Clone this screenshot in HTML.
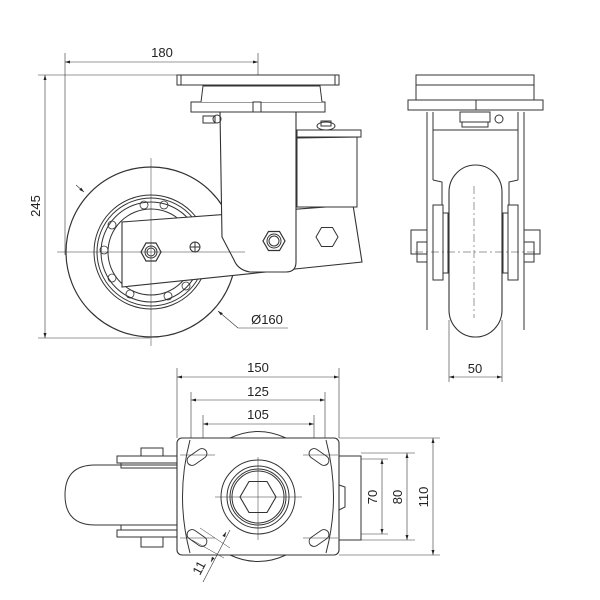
<!DOCTYPE html>
<html><head><style>body{margin:0;background:#fff}svg{display:block}text{font-family:"Liberation Sans",sans-serif;fill:#222}</style></head>
<body>
<svg width="600" height="600" viewBox="0 0 600 600" xmlns="http://www.w3.org/2000/svg">
<defs>
<marker id="a" viewBox="0 0 10 6" refX="10" refY="3" markerWidth="9" markerHeight="5" orient="auto-start-reverse"><path d="M0,0 L10,3 L0,6 z" fill="#222"/></marker>
</defs>
<g fill="none" stroke="#333" stroke-width="1">
<!-- ===== SIDE VIEW ===== -->
<line x1="65" y1="53" x2="65" y2="255" stroke-width="0.6"/>
<line x1="258" y1="53" x2="258" y2="95" stroke-width="0.6"/>
<line x1="65" y1="62" x2="258" y2="62" stroke-width="0.6" marker-start="url(#a)" marker-end="url(#a)"/>
<line x1="38" y1="75" x2="177" y2="75" stroke-width="0.6"/>
<line x1="38" y1="338" x2="150" y2="338" stroke-width="0.6"/>
<line x1="45" y1="75" x2="45" y2="338" stroke-width="0.6" marker-start="url(#a)" marker-end="url(#a)"/>
<!-- wheel -->
<circle cx="151" cy="252" r="85" stroke-width="1.2"/>
<circle cx="151" cy="252" r="57"/>
<circle cx="151" cy="252" r="54"/>
<circle cx="151" cy="252" r="50"/>
<circle cx="151" cy="252" r="43"/>
<g stroke-width="0.8">
<circle cx="144" cy="205" r="4"/><circle cx="164" cy="205" r="4"/><circle cx="112" cy="225" r="4"/><circle cx="104" cy="250" r="4"/><circle cx="112" cy="278" r="4"/><circle cx="130" cy="294" r="4"/><circle cx="168" cy="296" r="4"/><circle cx="186" cy="286" r="4"/>
</g>
<!-- arm -->
<path d="M122,222 L353,205 L362,262 L122,287 Z" fill="#fff" stroke-width="1.1"/>
<!-- spring housing -->
<rect x="297" y="137" width="60" height="70" fill="#fff"/>
<path d="M297,137 L359,131 L361,137 L297,138" />
<rect x="297" y="130" width="64" height="7" fill="#fff"/>
<ellipse cx="326" cy="126" rx="9" ry="4"/><rect x="321" y="121" width="10" height="5"/>
<!-- fork -->
<path d="M220,112 L296,112 L296,262 Q296,272 286,272 L250,272 Q238,270 234,260 L222,237 Z" fill="#fff" stroke-width="1.1"/>
<!-- top plates -->
<rect x="191" y="102" width="134" height="10" fill="#fff"/>
<path d="M201,102 L203,86 L320,86 L322,102" fill="#fff"/>
<rect x="177" y="75" width="162" height="10" fill="#fff"/>
<line x1="181" y1="75" x2="181" y2="85"/><line x1="335" y1="75" x2="335" y2="85"/>
<rect x="253" y="102" width="8" height="10"/>
<rect x="203" y="116" width="12" height="7"/><circle cx="217" cy="119" r="4"/>
<!-- nuts -->
<polygon points="161,252 156,261 146,261 141,252 146,243 156,243" stroke-width="1.2"/>
<circle cx="151" cy="252" r="6"/><circle cx="151" cy="252" r="4"/>
<circle cx="195" cy="247" r="5"/><line x1="190" y1="247" x2="200" y2="247"/><line x1="195" y1="242" x2="195" y2="252"/>
<polygon points="285,241 279.5,250.5 268.5,250.5 263,241 268.5,231.5 279.5,231.5" stroke-width="1.2"/>
<circle cx="274" cy="241" r="7"/><circle cx="274" cy="241" r="5"/>
<polygon points="338,237 332.5,246.5 321.5,246.5 316,237 321.5,227.5 332.5,227.5"/>
<!-- centerlines -->
<line x1="57" y1="252" x2="245" y2="252" stroke-width="0.5"/>
<line x1="151" y1="158" x2="151" y2="346" stroke-width="0.5"/>
<!-- diam leader -->
<line x1="76" y1="185" x2="84" y2="192" stroke-width="0.6" marker-end="url(#a)"/>
<line x1="238" y1="328" x2="218" y2="311" stroke-width="0.6" marker-end="url(#a)"/>
<line x1="238" y1="328" x2="288" y2="328" stroke-width="0.6"/>

<!-- ===== FRONT VIEW ===== -->
<rect x="408" y="100" width="135" height="10" fill="#fff"/>
<path d="M416,100 L416,85 L534,85 L534,100"/>
<rect x="416" y="75" width="118" height="10"/>
<line x1="476" y1="100" x2="476" y2="110"/>
<path d="M427,112 L427,330 M433,112 L433,180 M518,112 L518,180 M524,112 L524,330"/>
<path d="M433,130 L518,130"/>
<rect x="460" y="112" width="30" height="10"/><rect x="462" y="122" width="26" height="5"/><circle cx="499" cy="119" r="4"/>
<path d="M433,180 L442,182 L442,205 M518,180 L509,182 L509,205"/>
<rect x="433" y="205" width="10" height="75"/><rect x="508" y="205" width="10" height="75"/>
<rect x="443" y="213" width="5" height="60"/><rect x="503" y="213" width="5" height="60"/>
<rect x="449" y="165" width="53" height="172" rx="26.5" ry="27" fill="#fff" stroke-width="1.1"/>
<rect x="411" y="230" width="16" height="24"/><rect x="524" y="230" width="16" height="24"/>
<rect x="417" y="242" width="10" height="20"/><rect x="524" y="242" width="10" height="20"/>
<line x1="474" y1="186" x2="474" y2="318" stroke-width="0.5" stroke-dasharray="8,3,2,3"/>
<line x1="415" y1="252" x2="535" y2="252" stroke-width="0.5" stroke-dasharray="8,3,2,3"/>
<line x1="449" y1="320" x2="449" y2="382" stroke-width="0.6"/><line x1="502" y1="320" x2="502" y2="382" stroke-width="0.6"/>
<line x1="449" y1="377" x2="502" y2="377" stroke-width="0.6" marker-start="url(#a)" marker-end="url(#a)"/>

<!-- ===== TOP VIEW ===== -->
<line x1="177" y1="368" x2="177" y2="438" stroke-width="0.6"/><line x1="339" y1="368" x2="339" y2="438" stroke-width="0.6"/>
<line x1="177" y1="377" x2="339" y2="377" stroke-width="0.6" marker-start="url(#a)" marker-end="url(#a)"/>
<line x1="191" y1="392" x2="191" y2="465" stroke-width="0.6"/><line x1="325" y1="392" x2="325" y2="465" stroke-width="0.6"/>
<line x1="191" y1="400" x2="325" y2="400" stroke-width="0.6" marker-start="url(#a)" marker-end="url(#a)"/>
<line x1="203" y1="415" x2="203" y2="450" stroke-width="0.6"/><line x1="314" y1="415" x2="314" y2="450" stroke-width="0.6"/>
<line x1="203" y1="424" x2="314" y2="424" stroke-width="0.6" marker-start="url(#a)" marker-end="url(#a)"/>
<!-- wheel + fork -->
<path d="M177,465 L95,465 Q65,465 65,495 Q65,525 95,525 L177,525"/>
<rect x="117" y="456" width="60" height="7"/><rect x="121" y="463" width="56" height="5"/>
<rect x="117" y="530" width="60" height="7"/><rect x="121" y="525" width="56" height="5"/>
<rect x="141" y="448" width="22" height="8"/><rect x="141" y="537" width="22" height="10"/>
<!-- right housing -->
<rect x="339" y="456" width="22" height="84"/>
<path d="M339,485 L345,487 L345,507 L339,510"/>
<!-- plate -->
<path d="M230,438 Q258,425 286,438" fill="#fff"/>
<path d="M230,555 Q258,568 286,555" fill="#fff"/>
<rect x="177" y="438" width="162" height="117" rx="5" fill="#fff" stroke-width="1.1"/>
<path d="M190,440 Q175,497 190,553 M326,440 Q341,497 326,553"/>
<g stroke-width="0.9">
<rect x="186" y="452" width="22" height="10" rx="5" transform="rotate(-35 197 457)"/>
<rect x="308" y="452" width="22" height="10" rx="5" transform="rotate(35 319 457)"/>
<rect x="186" y="533" width="22" height="10" rx="5" transform="rotate(35 197 538)"/>
<rect x="308" y="533" width="22" height="10" rx="5" transform="rotate(-35 319 538)"/>
</g>
<circle cx="258" cy="497" r="37"/><circle cx="258" cy="497" r="31"/><circle cx="258" cy="497" r="28"/><circle cx="258" cy="497" r="26"/>
<polygon points="276,497 267,512.5 249,512.5 240,497 249,481.5 267,481.5" stroke-width="1.1"/>
<g stroke-width="0.5">
<line x1="215" y1="497" x2="302" y2="497"/><line x1="258" y1="457" x2="258" y2="540"/>
<line x1="180" y1="455" x2="215" y2="455"/><line x1="303" y1="455" x2="338" y2="455"/>
<line x1="180" y1="538" x2="215" y2="538"/><line x1="303" y1="538" x2="338" y2="538"/>
<line x1="339" y1="438" x2="440" y2="438"/><line x1="339" y1="555" x2="440" y2="555"/>
<line x1="361" y1="453" x2="415" y2="453"/><line x1="361" y1="540" x2="415" y2="540"/>
<line x1="361" y1="459" x2="388" y2="459"/><line x1="361" y1="534" x2="388" y2="534"/>
<line x1="200" y1="528" x2="230" y2="548"/><line x1="192" y1="540" x2="224" y2="558"/>
</g>
<line x1="382" y1="459" x2="382" y2="534" stroke-width="0.6" marker-start="url(#a)" marker-end="url(#a)"/>
<line x1="407" y1="453" x2="407" y2="540" stroke-width="0.6" marker-start="url(#a)" marker-end="url(#a)"/>
<line x1="433" y1="438" x2="433" y2="555" stroke-width="0.6" marker-start="url(#a)" marker-end="url(#a)"/>
<line x1="230" y1="530" x2="203" y2="582" stroke-width="0.6"/>
<line x1="224" y1="536" x2="226" y2="532" stroke-width="0.6" marker-end="url(#a)"/>
<line x1="213" y1="558" x2="211" y2="562" stroke-width="0.6" marker-end="url(#a)"/>
</g>
<g font-size="13">
<text x="162" y="57" text-anchor="middle">180</text>
<text x="0" y="0" text-anchor="middle" transform="translate(40,206) rotate(-90)">245</text>
<text x="267" y="324" text-anchor="middle">Ø160</text>
<text x="475" y="373" text-anchor="middle">50</text>
<text x="258" y="372" text-anchor="middle">150</text>
<text x="258" y="396" text-anchor="middle">125</text>
<text x="258" y="419" text-anchor="middle">105</text>
<text x="0" y="0" text-anchor="middle" transform="translate(377,497) rotate(-90)">70</text>
<text x="0" y="0" text-anchor="middle" transform="translate(402,497) rotate(-90)">80</text>
<text x="0" y="0" text-anchor="middle" transform="translate(428,497) rotate(-90)">110</text>
<text x="0" y="0" text-anchor="middle" transform="translate(203,570) rotate(-62)">11</text>
</g>
</svg>
</body></html>
